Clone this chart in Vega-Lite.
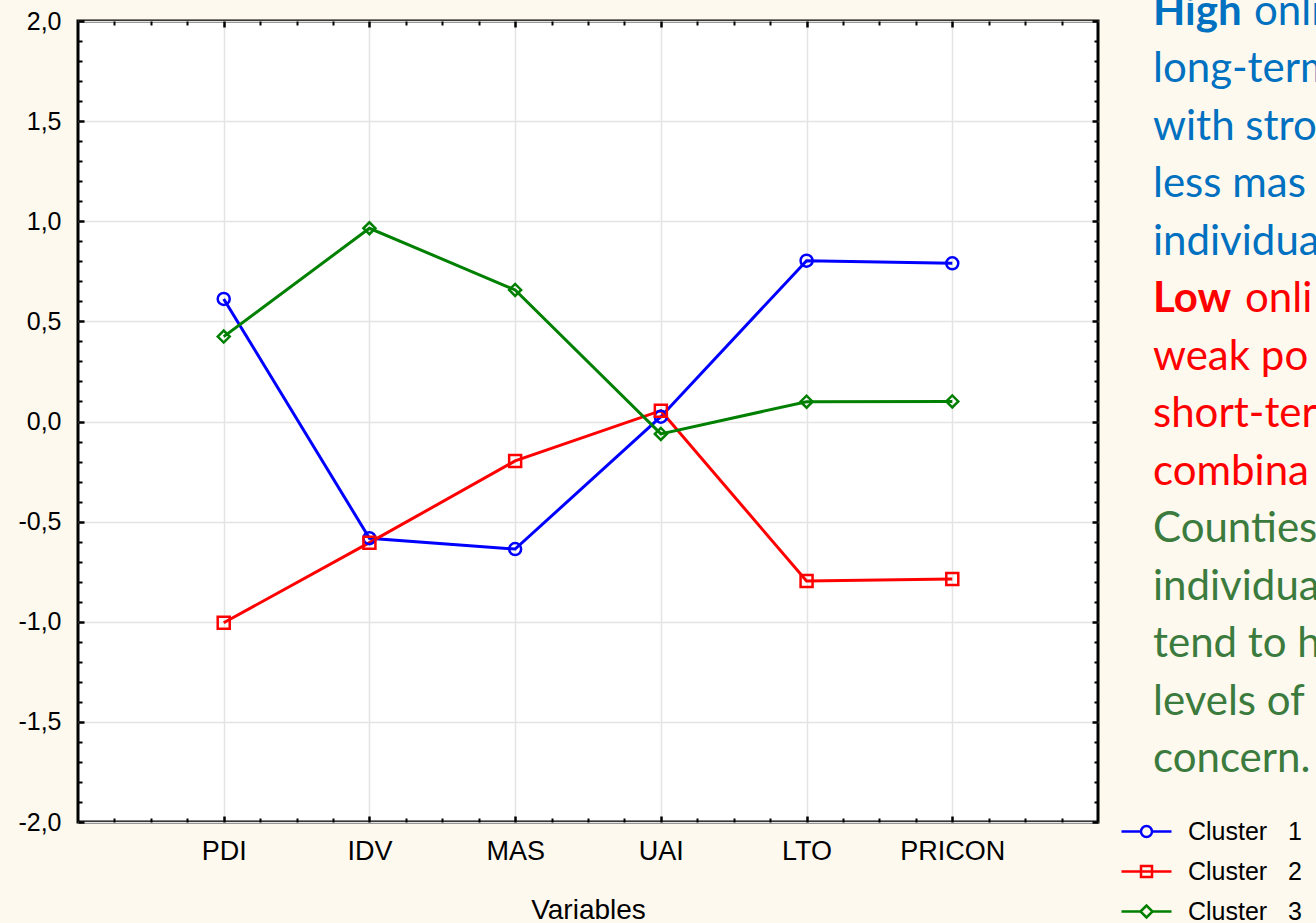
{
  "$schema": "https://vega.github.io/schema/vega-lite/v6.json",
  "width": 1020,
  "height": 801,
  "autosize": {"type": "none"},
  "padding": {"left": 78, "top": 21, "right": 218, "bottom": 101},
  "background": "#fdf9ee",
  "config": {
    "view": {"stroke": "#000000", "strokeWidth": 3, "fill": "#ffffff"},
    "axis": {"labelFont": "Liberation Sans", "titleFont": "Liberation Sans", "labelColor": "#000000", "titleColor": "#000000"}
  },
  "datasets": {
    "clusters": [
      {"variable": "PDI", "cluster": "Cluster 1", "value": 0.612},
      {"variable": "IDV", "cluster": "Cluster 1", "value": -0.583},
      {"variable": "MAS", "cluster": "Cluster 1", "value": -0.637},
      {"variable": "UAI", "cluster": "Cluster 1", "value": 0.024},
      {"variable": "LTO", "cluster": "Cluster 1", "value": 0.803},
      {"variable": "PRICON", "cluster": "Cluster 1", "value": 0.79},
      {"variable": "PDI", "cluster": "Cluster 2", "value": -1.005},
      {"variable": "IDV", "cluster": "Cluster 2", "value": -0.605},
      {"variable": "MAS", "cluster": "Cluster 2", "value": -0.197},
      {"variable": "UAI", "cluster": "Cluster 2", "value": 0.054},
      {"variable": "LTO", "cluster": "Cluster 2", "value": -0.797},
      {"variable": "PRICON", "cluster": "Cluster 2", "value": -0.787},
      {"variable": "PDI", "cluster": "Cluster 3", "value": 0.424},
      {"variable": "IDV", "cluster": "Cluster 3", "value": 0.965},
      {"variable": "MAS", "cluster": "Cluster 3", "value": 0.657},
      {"variable": "UAI", "cluster": "Cluster 3", "value": -0.062},
      {"variable": "LTO", "cluster": "Cluster 3", "value": 0.099},
      {"variable": "PRICON", "cluster": "Cluster 3", "value": 0.1}
    ],
    "notes": [
      {"line": 0, "text": "High", "group": "high", "kind": "lead"},
      {"line": 0, "text": "onli", "group": "high", "kind": "rest"},
      {"line": 1, "text": "long-term", "group": "high", "kind": "body"},
      {"line": 2, "text": "with stro", "group": "high", "kind": "body"},
      {"line": 3, "text": "less mas", "group": "high", "kind": "body"},
      {"line": 4, "text": "individua", "group": "high", "kind": "body"},
      {"line": 5, "text": "Low", "group": "low", "kind": "lead"},
      {"line": 5, "text": "onli", "group": "low", "kind": "rest"},
      {"line": 6, "text": "weak po", "group": "low", "kind": "body"},
      {"line": 7, "text": "short-ter", "group": "low", "kind": "body"},
      {"line": 8, "text": "combina", "group": "low", "kind": "body"},
      {"line": 9, "text": "Counties", "group": "mixed", "kind": "body"},
      {"line": 10, "text": "individua", "group": "mixed", "kind": "body"},
      {"line": 11, "text": "tend to h", "group": "mixed", "kind": "body"},
      {"line": 12, "text": "levels of", "group": "mixed", "kind": "body"},
      {"line": 13, "text": "concern.", "group": "mixed", "kind": "body"}
    ]
  },
  "resolve": {
    "scale": {"x": "independent", "y": "independent"},
    "axis": {"x": "independent", "y": "independent"}
  },
  "layer": [
    {
      "data": {"name": "clusters"},
      "mark": {"type": "line", "strokeWidth": 3},
      "encoding": {
        "x": {
          "field": "variable", "type": "nominal",
          "sort": ["PDI", "IDV", "MAS", "UAI", "LTO", "PRICON"],
          "scale": {"type": "point", "padding": 1},
          "axis": {"orient": "bottom", "ticks": false, "domain": false, "grid": true, "gridColor": "#e4e4e4", "gridWidth": 1.5, "labelFontSize": 27, "labelPadding": 16, "labelAngle": 0, "title": "Variables", "titleFontSize": 28, "titleFontWeight": "normal", "titlePadding": 32}
        },
        "y": {
          "field": "value", "type": "quantitative",
          "scale": {"domain": [-2, 2], "nice": false, "zero": false},
          "axis": {"orient": "left", "values": [-2, -1.5, -1, -0.5, 0, 0.5, 1, 1.5, 2], "labelExpr": "(datum.value < 0 ? '-' : '') + replace(format(abs(datum.value), '.1f'), '.', ',')", "labelFontSize": 25, "labelPadding": 17, "ticks": false, "domain": false, "grid": true, "gridColor": "#e4e4e4", "gridWidth": 1.5, "title": null}
        },
        "color": {
          "field": "cluster", "type": "nominal",
          "scale": {"domain": ["Cluster 1", "Cluster 2", "Cluster 3"], "range": ["#0000ff", "#ff0000", "#008000"]},
          "legend": {"orient": "none", "legendX": 1056, "legendY": 798, "title": null, "padding": 0, "labelFont": "Liberation Sans", "labelFontSize": 25, "labelColor": "#000000", "labelExpr": "replace(datum.label, ' ', '\u00a0\u00a0\u00a0')", "symbolSize": 400, "symbolStrokeWidth": 2.5, "rowPadding": 14, "labelOffset": 29, "symbolFillColor": "transparent"}
        }
      }
    },
    {
      "data": {"name": "clusters"},
      "transform": [{"filter": "datum.cluster === 'Cluster 1'"}],
      "mark": {"type": "point", "shape": "circle", "filled": false, "size": 144, "strokeWidth": 2.5, "opacity": 1},
      "encoding": {
        "x": {"field": "variable", "type": "nominal", "sort": ["PDI", "IDV", "MAS", "UAI", "LTO", "PRICON"], "scale": {"type": "point", "padding": 1}, "axis": null},
        "y": {"field": "value", "type": "quantitative", "scale": {"domain": [-2, 2], "nice": false, "zero": false}, "axis": null},
        "color": {"field": "cluster", "type": "nominal",
          "legend": {"orient": "none", "legendX": 1056, "legendY": 798, "title": null, "padding": 0, "labelFont": "Liberation Sans", "labelFontSize": 25, "labelColor": "#000000", "labelExpr": "replace(datum.label, ' ', '\u00a0\u00a0\u00a0')", "symbolSize": 400, "symbolStrokeWidth": 2.5, "rowPadding": 14, "labelOffset": 29, "symbolFillColor": "transparent"}}
      }
    },
    {
      "data": {"name": "clusters"},
      "transform": [{"filter": "datum.cluster === 'Cluster 2'"}],
      "mark": {"type": "point", "shape": "square", "filled": false, "size": 144, "strokeWidth": 2.5, "opacity": 1},
      "encoding": {
        "x": {"field": "variable", "type": "nominal", "sort": ["PDI", "IDV", "MAS", "UAI", "LTO", "PRICON"], "scale": {"type": "point", "padding": 1}, "axis": null},
        "y": {"field": "value", "type": "quantitative", "scale": {"domain": [-2, 2], "nice": false, "zero": false}, "axis": null},
        "color": {"field": "cluster", "type": "nominal",
          "legend": {"orient": "none", "legendX": 1056, "legendY": 798, "title": null, "padding": 0, "labelFont": "Liberation Sans", "labelFontSize": 25, "labelColor": "#000000", "labelExpr": "replace(datum.label, ' ', '\u00a0\u00a0\u00a0')", "symbolSize": 400, "symbolStrokeWidth": 2.5, "rowPadding": 14, "labelOffset": 29, "symbolFillColor": "transparent"}}
      }
    },
    {
      "data": {"name": "clusters"},
      "transform": [{"filter": "datum.cluster === 'Cluster 3'"}],
      "mark": {"type": "point", "shape": "diamond", "filled": false, "size": 144, "strokeWidth": 2.5, "opacity": 1},
      "encoding": {
        "x": {"field": "variable", "type": "nominal", "sort": ["PDI", "IDV", "MAS", "UAI", "LTO", "PRICON"], "scale": {"type": "point", "padding": 1}, "axis": null},
        "y": {"field": "value", "type": "quantitative", "scale": {"domain": [-2, 2], "nice": false, "zero": false}, "axis": null},
        "color": {"field": "cluster", "type": "nominal",
          "legend": {"orient": "none", "legendX": 1056, "legendY": 798, "title": null, "padding": 0, "labelFont": "Liberation Sans", "labelFontSize": 25, "labelColor": "#000000", "labelExpr": "replace(datum.label, ' ', '\u00a0\u00a0\u00a0')", "symbolSize": 400, "symbolStrokeWidth": 2.5, "rowPadding": 14, "labelOffset": 29, "symbolFillColor": "transparent"}}
      }
    },
    {
      "data": {"values": [{}]},
      "mark": {"type": "point", "opacity": 0},
      "encoding": {
        "x": {"datum": "PDI", "type": "nominal", "scale": {"type": "point", "domain": ["PDI", "IDV", "MAS", "UAI", "LTO", "PRICON"], "padding": 1}, "axis": {"orient": "bottom", "labels": false, "domain": false, "grid": false, "ticks": true, "tickSize": -6, "tickWidth": 2.5, "tickColor": "#000000", "title": null}},
        "y": {"datum": 0, "type": "quantitative", "scale": {"domain": [-2, 2], "nice": false, "zero": false}, "axis": {"orient": "left", "values": [-2, -1.5, -1, -0.5, 0, 0.5, 1, 1.5, 2], "labels": false, "domain": false, "grid": false, "ticks": true, "tickSize": -6, "tickWidth": 2.5, "tickColor": "#000000", "title": null}}
      }
    },
    {
      "data": {"values": [{}]},
      "mark": {"type": "point", "opacity": 0},
      "encoding": {
        "x": {"datum": "PDI", "type": "nominal", "scale": {"type": "point", "domain": ["PDI", "IDV", "MAS", "UAI", "LTO", "PRICON"], "padding": 1}, "axis": {"orient": "top", "labels": false, "domain": false, "grid": false, "ticks": true, "tickSize": -6, "tickWidth": 2.5, "tickColor": "#000000", "title": null}},
        "y": {"datum": 0, "type": "quantitative", "scale": {"domain": [-2, 2], "nice": false, "zero": false}, "axis": {"orient": "right", "values": [-2, -1.5, -1, -0.5, 0, 0.5, 1, 1.5, 2], "labels": false, "domain": false, "grid": false, "ticks": true, "tickSize": -6, "tickWidth": 2.5, "tickColor": "#000000", "title": null}}
      }
    },
    {
      "data": {"values": [{}]},
      "mark": {"type": "point", "opacity": 0},
      "encoding": {
        "x": {"datum": 0, "type": "quantitative", "scale": {"domain": [0, 28], "nice": false, "zero": false}, "axis": {"orient": "bottom", "values": [1, 2, 3, 5, 6, 7, 9, 10, 11, 13, 14, 15, 17, 18, 19, 21, 22, 23, 25, 26, 27], "labels": false, "domain": false, "grid": false, "ticks": true, "tickSize": -4, "tickWidth": 2, "tickColor": "#000000", "title": null}},
        "y": {"datum": 0, "type": "quantitative", "scale": {"domain": [-2, 2], "nice": false, "zero": false}, "axis": {"orient": "left", "values": [-1.9, -1.8, -1.7, -1.6, -1.4, -1.3, -1.2, -1.1, -0.9, -0.8, -0.7, -0.6, -0.4, -0.3, -0.2, -0.1, 0.1, 0.2, 0.3, 0.4, 0.6, 0.7, 0.8, 0.9, 1.1, 1.2, 1.3, 1.4, 1.6, 1.7, 1.8, 1.9], "labels": false, "domain": false, "grid": false, "ticks": true, "tickSize": -4, "tickWidth": 2, "tickColor": "#000000", "title": null}}
      }
    },
    {
      "data": {"values": [{}]},
      "mark": {"type": "point", "opacity": 0},
      "encoding": {
        "x": {"datum": 0, "type": "quantitative", "scale": {"domain": [0, 28], "nice": false, "zero": false}, "axis": {"orient": "top", "values": [1, 2, 3, 5, 6, 7, 9, 10, 11, 13, 14, 15, 17, 18, 19, 21, 22, 23, 25, 26, 27], "labels": false, "domain": false, "grid": false, "ticks": true, "tickSize": -4, "tickWidth": 2, "tickColor": "#000000", "title": null}},
        "y": {"datum": 0, "type": "quantitative", "scale": {"domain": [-2, 2], "nice": false, "zero": false}, "axis": {"orient": "right", "values": [-1.9, -1.8, -1.7, -1.6, -1.4, -1.3, -1.2, -1.1, -0.9, -0.8, -0.7, -0.6, -0.4, -0.3, -0.2, -0.1, 0.1, 0.2, 0.3, 0.4, 0.6, 0.7, 0.8, 0.9, 1.1, 1.2, 1.3, 1.4, 1.6, 1.7, 1.8, 1.9], "labels": false, "domain": false, "grid": false, "ticks": true, "tickSize": -4, "tickWidth": 2, "tickColor": "#000000", "title": null}}
      }
    },
    {
      "data": {"name": "notes"},
      "transform": [{"filter": "datum.kind === 'body'"}],
      "mark": {"type": "text", "align": "left", "baseline": "alphabetic", "dx": 55, "font": "Lato", "fontSize": 42},
      "encoding": {
        "x": {"datum": 1, "type": "quantitative", "scale": {"domain": [0, 1], "nice": false, "zero": false}, "axis": null},
        "y": {"field": "line", "type": "quantitative", "scale": {"domain": [-0.0609, 13.869], "reverse": true, "nice": false, "zero": false}, "axis": null},
        "text": {"field": "text"},
        "color": {"condition": [{"test": "datum.group === 'high'", "value": "#0070c0"}, {"test": "datum.group === 'low'", "value": "#ff0000"}], "value": "#3b7b3e"}
      }
    },
    {
      "data": {"name": "notes"},
      "transform": [{"filter": "datum.kind === 'lead'"}],
      "mark": {"type": "text", "align": "left", "baseline": "alphabetic", "dx": 55, "font": "Lato", "fontSize": 42, "fontWeight": "bold"},
      "encoding": {
        "x": {"datum": 1, "type": "quantitative", "scale": {"domain": [0, 1], "nice": false, "zero": false}, "axis": null},
        "y": {"field": "line", "type": "quantitative", "scale": {"domain": [-0.0609, 13.869], "reverse": true, "nice": false, "zero": false}, "axis": null},
        "text": {"field": "text"},
        "color": {"condition": [{"test": "datum.group === 'high'", "value": "#0070c0"}, {"test": "datum.group === 'low'", "value": "#ff0000"}], "value": "#3b7b3e"}
      }
    },
    {
      "data": {"name": "notes"},
      "transform": [{"filter": "datum.kind === 'rest' && datum.group === 'high'"}],
      "mark": {"type": "text", "align": "left", "baseline": "alphabetic", "dx": 156, "font": "Lato", "fontSize": 42, "color": "#0070c0"},
      "encoding": {
        "x": {"datum": 1, "type": "quantitative", "scale": {"domain": [0, 1], "nice": false, "zero": false}, "axis": null},
        "y": {"field": "line", "type": "quantitative", "scale": {"domain": [-0.0609, 13.869], "reverse": true, "nice": false, "zero": false}, "axis": null},
        "text": {"field": "text"}
      }
    },
    {
      "data": {"name": "notes"},
      "transform": [{"filter": "datum.kind === 'rest' && datum.group === 'low'"}],
      "mark": {"type": "text", "align": "left", "baseline": "alphabetic", "dx": 147, "font": "Lato", "fontSize": 42, "color": "#ff0000"},
      "encoding": {
        "x": {"datum": 1, "type": "quantitative", "scale": {"domain": [0, 1], "nice": false, "zero": false}, "axis": null},
        "y": {"field": "line", "type": "quantitative", "scale": {"domain": [-0.0609, 13.869], "reverse": true, "nice": false, "zero": false}, "axis": null},
        "text": {"field": "text"}
      }
    },
    {
      "data": {"name": "clusters"},
      "transform": [{"filter": "false"}],
      "mark": {"type": "point", "filled": false},
      "encoding": {
        "x": {"field": "variable", "type": "nominal", "scale": {"type": "point", "domain": ["PDI", "IDV", "MAS", "UAI", "LTO", "PRICON"], "padding": 1}, "axis": null},
        "y": {"field": "value", "type": "quantitative", "scale": {"domain": [-2, 2], "nice": false, "zero": false}, "axis": null},
        "color": {
          "field": "cluster", "type": "nominal",
          "legend": {"orient": "none", "legendX": 1056, "legendY": 798, "title": null, "padding": 0, "labelFont": "Liberation Sans", "labelFontSize": 25, "labelColor": "#000000", "labelExpr": "replace(datum.label, ' ', '\u00a0\u00a0\u00a0')", "symbolSize": 400, "symbolStrokeWidth": 2.5, "rowPadding": 14, "labelOffset": 29, "symbolFillColor": "transparent"}
        },
        "shape": {
          "field": "cluster", "type": "nominal",
          "scale": {"domain": ["Cluster 1", "Cluster 2", "Cluster 3"], "range": [
            "M-2.5,0H-0.55A0.55,0.55 0 1,1 0.55,0A0.55,0.55 0 1,1 -0.55,0M0.55,0H2.5",
            "M-2.5,0H2.5M-0.55,-0.55H0.55V0.55H-0.55Z",
            "M-2.5,0H-0.6M-0.6,0L0,-0.6L0.6,0L0,0.6ZM0.6,0H2.5"
          ]},
          "legend": {"orient": "none", "legendX": 1056, "legendY": 798, "title": null, "padding": 0, "labelFont": "Liberation Sans", "labelFontSize": 25, "labelColor": "#000000", "labelExpr": "replace(datum.label, ' ', '\u00a0\u00a0\u00a0')", "symbolSize": 400, "symbolStrokeWidth": 2.5, "rowPadding": 14, "labelOffset": 29, "symbolFillColor": "transparent"}
        }
      }
    }
  ]
}
